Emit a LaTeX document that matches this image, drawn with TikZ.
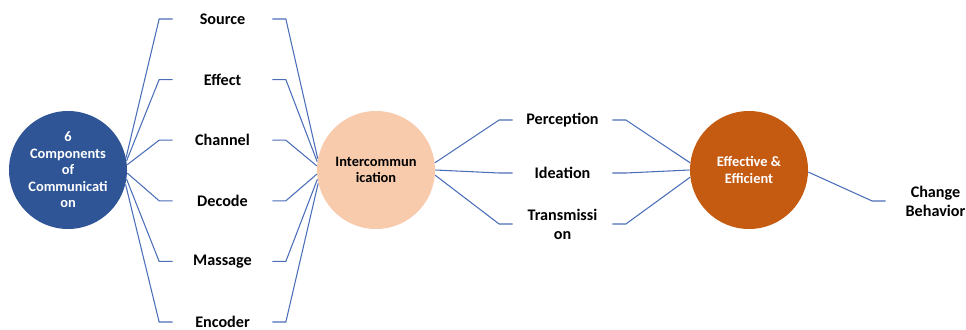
\documentclass[tikz,border=0pt]{standalone}
\usepackage{fontspec}
\setmainfont{Carlito}
\usepackage{tikz}
\definecolor{compblue}{HTML}{2F5597}
\definecolor{interpeach}{HTML}{F8CBAD}
\definecolor{effcorange}{HTML}{C55A11}
\definecolor{linkblue}{HTML}{4A6DB8}
\tikzset{every node/.style={align=center},
  hub/.style={circle, minimum size=2.36cm, inner sep=0pt, font=\bfseries\fontsize{8.2}{9.4}\selectfont},
  item/.style={text width=1.98cm, inner sep=0pt, font=\bfseries\fontsize{9.2}{10.8}\selectfont},
  link/.style={draw=linkblue, line width=0.6pt}}

\begin{document}
\begin{tikzpicture}[node distance=1.212cm]
            \useasboundingbox (-1.36,-3.18) rectangle (17.96,3.4);
            \node [hub,fill=compblue,text=white] (comp) at (0,0) {6\\Components\\of\\Communicati\\on};
            \node [hub,fill=interpeach] (inter) [right of = comp,node distance=6.16cm] {Intercommun\\ication};
            \node [hub,fill=effcorange,text=white] (effc) [right of = inter,node distance=7.46cm] {Effective \&\\Efficient};

            \node [item] (src) at (3.09,3.02) {Source};
            \node [item] (eff) [below of = src] {Effect};
            \node [item] (chn) [below of = eff] {Channel};
            \node [item] (dec) [below of = chn] {Decode};
            \node [item] (msg) [below of = dec] {Massage};
            \node [item] (enc) [below of = msg] {Encoder};

            \node [item] (per) at (9.89,1.0) {Perception};
            \node [item] (ide) [below of = per,node distance=1.06cm] {Ideation};
            \node [item] (trn) [below of = ide,node distance=1.02cm] {Transmissi\\on};
            \node [item] (chg) at (17.35,-0.62) {Change\\Behavior};

            \path[link] (comp.12) -- ([xshift=-2.7mm]src.west) -- (src.west)
                (src.east) -- ([xshift=2.7mm]src.east) -- (inter.169)
                (comp.9) -- ([xshift=-2.7mm]eff.west) -- (eff.west)
                (eff.east) -- ([xshift=2.7mm]eff.east) -- (inter.172)
                (comp.5) -- ([xshift=-2.7mm]chn.west) -- (chn.west)
                (chn.east) -- ([xshift=2.7mm]chn.east) -- (inter.176)
                (comp.-3) -- ([xshift=-2.7mm]dec.west) -- (dec.west)
                (dec.east) -- ([xshift=2.7mm]dec.east) -- (inter.184)
                (comp.-9) -- ([xshift=-2.7mm]msg.west) -- (msg.west)
                (msg.east) -- ([xshift=2.7mm]msg.east) -- (inter.189)
                (comp.-14) -- ([xshift=-2.7mm]enc.west) -- (enc.west)
                (enc.east) -- ([xshift=2.7mm]enc.east) -- (inter.193);

            \path[link] (inter.7) -- ([xshift=-2.7mm]per.west) -- (per.west)
                (per.east) -- ([xshift=2.7mm]per.east) -- (effc.173)
                (inter.0) -- ([xshift=-2.7mm]ide.west) -- (ide.west)
                (ide.east) -- ([xshift=2.7mm]ide.east) -- (effc.180)
                (inter.-5) -- ([xshift=-2.7mm]trn.west) -- (trn.west)
                (trn.east) -- ([xshift=2.7mm]trn.east) -- (effc.187)
                (effc.-2) -- ([xshift=-2.7mm]chg.west) -- (chg.west);

        \end{tikzpicture}
\end{document}
